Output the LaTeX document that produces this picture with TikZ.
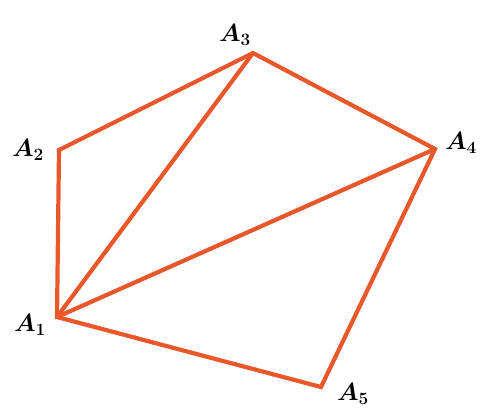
\documentclass[tikz,border=0pt]{standalone}
\definecolor{edge}{HTML}{E8582A}
\tikzset{
  lbl/.style={font=\fontsize{24}{28}\selectfont\boldmath, inner sep=0pt},
  side/.style={draw=edge, line width=4.2pt, line join=miter, line cap=round}
}
\begin{document}
\begin{tikzpicture}[x=1pt,y=-1pt]
\useasboundingbox (0,0) rectangle (481,408);
\coordinate (A1) at (57,317);
\coordinate (A2) at (59,150);
\coordinate (A3) at (253,53);
\coordinate (A4) at (435,149);
\coordinate (A5) at (321,387);
\draw[side] (A1) -- (A2) -- (A3) -- (A4) -- (A5) -- cycle;
\draw[side] (A1) -- (A3);
\draw[side] (A1) -- (A4);
\node[lbl] (L1) at (30,325) {$A_1$};
\node[lbl] (L2) at (28,150) {$A_2$};
\node[lbl] (L3) at (235,35) {$A_3$};
\node[lbl] (L4) at (461,143) {$A_4$};
\node[lbl] (L5) at (353,394) {$A_5$};
\end{tikzpicture}
\end{document}
